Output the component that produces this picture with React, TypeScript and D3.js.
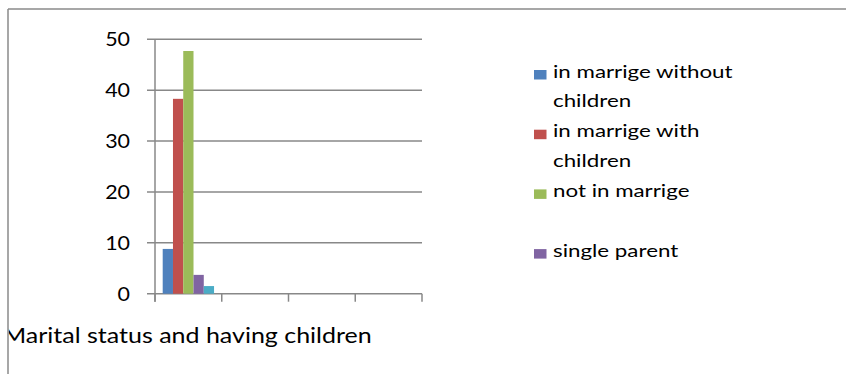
import React from "react";
import * as d3 from "d3";

// Chart data
const categories = ["1", "2", "3", "4"];
const seriesNames = [
  "in marrige without children",
  "in marrige with children",
  "not in marrige",
  "single parent",
  "other",
];
const seriesColors = ["#4F81BD", "#C0504D", "#9BBB59", "#8064A2", "#4BACC6"];
// values per series, one entry per category (null = empty)
const inMarrigeWithout = [8.8, null, null, null];
const inMarrigeWith = [38.3, null, null, null];
const notInMarrige = [47.7, null, null, null];
const singleParent = [3.7, null, null, null];
const other = [1.5, null, null, null];
const seriesValues = [inMarrigeWithout, inMarrigeWith, notInMarrige, singleParent, other];
const yTicks = [0, 10, 20, 30, 40, 50];
// legend rows (each entry spans two lines)
const legendLines = [
  ["in marrige without", "children"],
  ["in marrige with", "children"],
  ["not in marrige", ""],
  ["single parent", ""],
];
const chartTitle = "Marital status and having children";

const W = 846;
const H = 374;
const FONT = "Lato, 'Open Sans', sans-serif";
const GRID = "#888888";

// text with a horizontal stretch, anchored at (x, y)
function SText(props: {
  x: number;
  y: number;
  size: number;
  sx: number;
  anchor?: string;
  dy?: string;
  children: React.ReactNode;
}) {
  const { x, y, size, sx, anchor = "start", dy, children } = props;
  return (
    <text
      transform={`translate(${x},${y}) scale(${sx},1)`}
      dy={dy}
      textAnchor={anchor}
      fontFamily={FONT}
      fontSize={size}
      fill="#000"
    >
      {children}
    </text>
  );
}

export default function App() {
  const plotLeft = 155;
  const plotRight = 422;
  const plotTop = 39.3;
  const plotBottom = 293.7;

  const y = d3.scaleLinear().domain([0, 50]).range([plotBottom, plotTop]);
  const x = d3.scaleBand<string>().domain(categories).range([plotLeft, plotRight]).padding(0);
  const xs = d3
    .scaleBand<string>()
    .domain(seriesNames)
    .range([0, x.bandwidth()])
    .paddingInner(0)
    .paddingOuter(0.75);

  const catTicks = [...categories.map((c) => x(c) as number), plotRight];

  return (
    <div style={{ position: "fixed", left: 0, top: 0, width: W, height: H, background: "#fff" }}>
      <svg width={W} height={H} style={{ display: "block" }}>
        <defs>
          <clipPath id="frameClip">
            <rect x={8.75} y={9.75} width={W} height={H} />
          </clipPath>
        </defs>
        <rect width={W} height={H} fill="#fff" />

        {/* gridlines with left tick stubs */}
        {yTicks.map((t) => (
          <line key={t} x1={147} x2={plotRight} y1={y(t)} y2={y(t)} stroke={GRID} strokeWidth={1.5} />
        ))}
        {/* y axis line */}
        <line x1={plotLeft} x2={plotLeft} y1={plotTop} y2={plotBottom + 8} stroke={GRID} strokeWidth={1.5} />
        {/* category tick marks */}
        {catTicks.map((cx, i) => (
          <line key={i} x1={cx} x2={cx} y1={plotBottom} y2={plotBottom + 8} stroke={GRID} strokeWidth={1.5} />
        ))}

        {/* y tick labels */}
        {yTicks.map((t) => (
          <SText key={t} x={130} y={y(t)} dy="0.36em" anchor="end" size={19.5} sx={1.1}>
            {t}
          </SText>
        ))}

        {/* bars */}
        {seriesValues.map((vals, si) =>
          vals.map((v, ci) =>
            v == null ? null : (
              <rect
                key={`${si}-${ci}`}
                x={(x(categories[ci]) as number) + (xs(seriesNames[si]) as number)}
                y={y(v)}
                width={xs.bandwidth()}
                height={y(0) - y(v)}
                fill={seriesColors[si]}
              />
            )
          )
        )}

        {/* legend */}
        {legendLines.map((lines, i) => {
          const base = 77.5 + i * 59.7;
          return (
            <g key={i}>
              <rect x={534} y={base - 7.5} width={12.5} height={9.5} fill={seriesColors[i]} />
              {lines.map((ln, j) => (
                <SText key={j} x={553} y={base + j * 29.5} size={16.8} sx={1.33}>
                  {ln}
                </SText>
              ))}
            </g>
          );
        })}

        {/* axis title, clipped at the frame edge */}
        <g clipPath="url(#frameClip)">
          <SText x={3} y={343} size={21} sx={1.19}>
            {chartTitle}
          </SText>
        </g>

        {/* outer frame (top and left edges visible) */}
        <line x1={8} x2={W} y1={9} y2={9} stroke="#8a8a8a" strokeWidth={1.5} />
        <line x1={8} x2={8} y1={9} y2={H} stroke="#8a8a8a" strokeWidth={1.5} />
      </svg>
    </div>
  );
}
